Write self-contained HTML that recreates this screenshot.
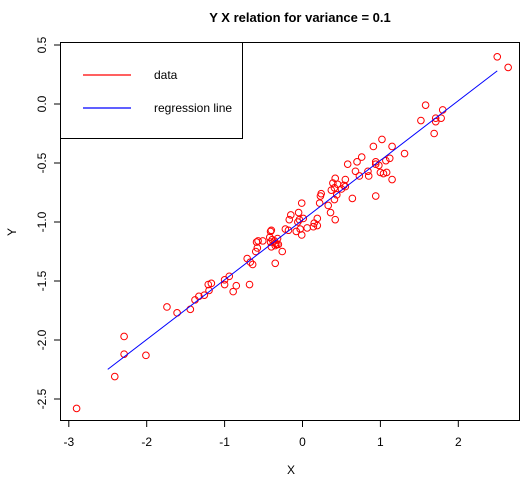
<!DOCTYPE html>
<html><head><meta charset="utf-8"><style>
body{margin:0;background:#fff}
svg text{font-family:"Liberation Sans",Arial,sans-serif;font-size:12px;fill:#000}
</style></head><body>
<svg id="chart" width="531" height="483">
<text x="300" y="22" text-anchor="middle" style="font-weight:bold;font-size:13px">Y X relation for variance = 0.1</text>
<rect x="60.5" y="42.5" width="459" height="378" fill="none" stroke="#000"/>
<g id="axes"></g>
<g id="marks"></g>
<text x="291" y="474" text-anchor="middle">X</text>
<text x="16" y="232" text-anchor="middle" transform="rotate(-90 16 232)">Y</text>
<g>
<rect x="60.5" y="42.5" width="182" height="96" fill="#fff" stroke="#000"/>
<line x1="83" y1="75" x2="131" y2="75" stroke="#f00" stroke-width="1.3"/>
<text x="154" y="79">data</text>
<line x1="83" y1="108" x2="131" y2="108" stroke="#00f" stroke-width="1.3"/>
<text x="154" y="112">regression line</text>
</g>
</svg>
<script>
const xs=[-2.90,-2.41,-2.29,-2.29,-2.01,-1.74,-1.61,-1.44,-1.38,-1.33,-1.26,-1.20,-1.21,-1.17,-1.00,-1.00,-0.94,-0.89,-0.85,-0.67,-0.68,-0.64,-0.60,-0.59,-0.71,-0.58,-0.57,-0.51,-0.41,-0.36,-0.41,-0.40,-0.35,-0.39,-0.33,-0.32,-0.42,-0.40,-0.35,-0.31,-0.26,-0.35,-0.18,-0.22,-0.17,-0.15,-0.08,-0.03,-0.01,-0.06,-0.04,0.01,-0.05,-0.01,0.06,0.15,0.19,0.19,0.14,0.22,0.23,0.24,0.33,0.36,0.42,0.41,0.37,0.41,0.44,0.39,0.42,0.45,0.53,0.55,0.55,0.50,0.58,0.64,0.68,0.70,0.73,0.76,0.84,0.85,0.91,0.94,0.94,0.94,0.98,1.00,1.02,1.04,1.07,1.08,1.12,1.15,1.15,1.31,1.52,1.58,1.69,1.71,1.71,1.78,1.80,2.50,2.64];
const ys=[-2.58,-2.31,-2.12,-1.97,-2.13,-1.72,-1.77,-1.74,-1.66,-1.63,-1.62,-1.58,-1.53,-1.52,-1.49,-1.53,-1.46,-1.59,-1.54,-1.34,-1.53,-1.36,-1.25,-1.17,-1.31,-1.22,-1.16,-1.16,-1.17,-1.16,-1.08,-1.21,-1.20,-1.15,-1.19,-1.14,-1.13,-1.07,-1.18,-1.19,-1.25,-1.35,-1.07,-1.06,-0.98,-0.94,-1.08,-1.06,-1.11,-1.00,-0.98,-0.97,-0.92,-0.84,-1.05,-1.01,-1.03,-0.97,-1.04,-0.84,-0.78,-0.76,-0.86,-0.92,-0.98,-0.81,-0.73,-0.71,-0.77,-0.67,-0.63,-0.68,-0.69,-0.70,-0.64,-0.72,-0.51,-0.80,-0.57,-0.49,-0.61,-0.45,-0.57,-0.61,-0.36,-0.49,-0.51,-0.78,-0.52,-0.58,-0.30,-0.59,-0.48,-0.58,-0.46,-0.36,-0.64,-0.42,-0.14,-0.01,-0.25,-0.12,-0.15,-0.12,-0.05,0.40,0.31];
const xTicks=[-3,-2,-1,0,1,2];
const yTicks=[0.5,0.0,-0.5,-1.0,-1.5,-2.0,-2.5];
const yTickLabels=["0.5","0.0","-0.5","-1.0","-1.5","-2.0","-2.5"];
const regX=[-2.5,2.5];
const regIntercept=-0.984, regSlope=0.506;
const sx=v=>302.5+v*77.9;
const sy=v=>104-v*118;
const NS="http://www.w3.org/2000/svg";
const axes=document.getElementById('axes'),marks=document.getElementById('marks');
function mk(t,a,p){const e=document.createElementNS(NS,t);for(const k in a)e.setAttribute(k,a[k]);p.appendChild(e);return e;}
xTicks.forEach(v=>{const x=sx(v);
const l=mk('line',{x1:x,y1:420.5,x2:x,y2:427,stroke:'#000'},axes);


const t=mk('text',{x:x,y:446,'text-anchor':'middle'},axes);t.textContent=v;

});
yTicks.forEach((v,i)=>{const y=sy(v);
const l=mk('line',{x1:54,y1:y,x2:60.5,y2:y,stroke:'#000'},axes);


const t=mk('text',{x:46,y:y,'text-anchor':'middle',transform:`rotate(-90 46 ${y})`},axes);t.textContent=yTickLabels[i];

});
xs.forEach((x,i)=>{const c=mk('circle',{cx:sx(x),cy:sy(ys[i]),r:3.3,fill:'none',stroke:'#f00','stroke-width':1},marks);

});
const rl=mk('line',{x1:sx(regX[0]),y1:sy(regIntercept+regSlope*regX[0]),x2:sx(regX[1]),y2:sy(regIntercept+regSlope*regX[1]),stroke:'#00f','stroke-width':1},marks);


</script>
</body></html>
